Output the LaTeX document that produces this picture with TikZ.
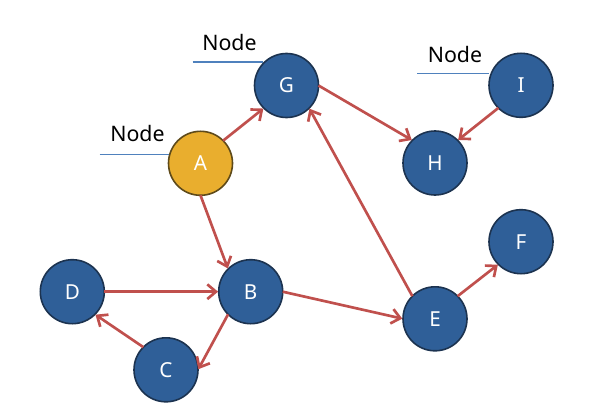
\documentclass[tikz,border=0pt]{standalone}
\usepackage{fontspec}
\setmainfont{Noto Sans}
\usetikzlibrary{arrows.meta}
\definecolor{nodeblue}{HTML}{2F5F98}
\definecolor{nodeedge}{HTML}{1C3350}
\definecolor{nodeorange}{HTML}{E9AE2E}
\definecolor{orangeedge}{HTML}{5E4A1A}
\definecolor{arrowred}{HTML}{C0504D}
\definecolor{lineblue}{HTML}{4F81BD}
\tikzset{
  vertex/.style={circle, draw=nodeedge, line width=1.2pt, fill=nodeblue, minimum size=48pt, inner sep=0pt, outer sep=0pt, text=white, font=\fontsize{15.5}{18}\selectfont},
  hot/.style={vertex, fill=nodeorange, draw=orangeedge},
  edge/.style={draw=arrowred, line width=2pt, -{Straight Barb[length=6.5pt,width=11pt,line width=2pt]}, shorten >=0.5pt},
  tag/.style={font=\fontsize{16}{19}\selectfont, text=black, inner sep=0pt},
  tagline/.style={draw=lineblue, line width=0.8pt}
}
\begin{document}
\begin{tikzpicture}[x=0.75pt,y=-0.75pt]
\useasboundingbox (0,0) rectangle (591,417);
\node[hot] (A) at (200.5,163.3) {A};
\node[vertex] (G) at (286.5,85.5) {G};
\node[vertex] (H) at (435,163) {H};
\node[vertex] (I) at (521,85.3) {I};
\node[vertex] (F) at (521,241.7) {F};
\node[vertex] (E) at (435,318.8) {E};
\node[vertex] (B) at (250.7,291.7) {B};
\node[vertex] (D) at (72.3,291.7) {D};
\node[vertex] (C) at (166,369.8) {C};
% labels
\node[tag] (t1) at (229.5,43) {Node};
\coordinate (t1a) at (192.5,62);
\coordinate (t1b) at (263,62);
\draw[tagline] (t1a) -- (t1b);
\node[tag] (t2) at (137.5,134) {Node};
\coordinate (t2a) at (99.5,154.5);
\coordinate (t2b) at (169,154.5);
\draw[tagline] (t2a) -- (t2b);
\node[tag] (t3) at (455,54.5) {Node};
\coordinate (t3a) at (417,73.5);
\coordinate (t3b) at (488.5,73.5);
\draw[tagline] (t3a) -- (t3b);
% edges
\draw[edge] (A.north east) -- (G.south west);
\draw[edge] (A.south) -- (B.north west);
\draw[edge] (G.east) -- (H.north west);
\draw[edge] (I.south west) -- (H.north east);
\draw[edge] (E.north west) -- (G.south east);
\draw[edge] (B.east) -- (E.west);
\draw[edge] (E.north east) -- (F.south west);
\draw[edge] (D.east) -- (B.west);
\draw[edge] (B.south west) -- (C.east);
\draw[edge] (C.north west) -- (D.south east);
\end{tikzpicture}
\end{document}
